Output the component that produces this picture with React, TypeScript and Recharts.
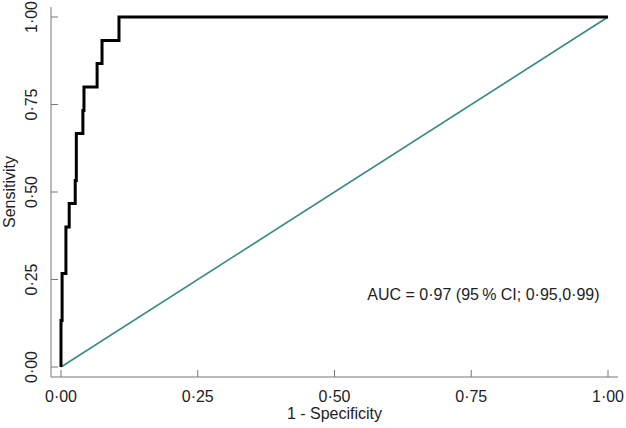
import { Line, LineChart, ReferenceDot, XAxis, YAxis } from "recharts";

const FPR = [0, 0.002, 0.009, 0.015, 0.026, 0.028, 0.04, 0.042, 0.066, 0.075, 0.106, 1];
const TPR = [0, 0.133, 0.267, 0.4, 0.467, 0.533, 0.667, 0.733, 0.8, 0.867, 0.933, 1];
const DIAG_X = [0, 1];
const DIAG_Y = [0, 1];
const TICKS = [0, 0.25, 0.5, 0.75, 1];
const AUC_TEXT = "AUC = 0·97 (95\u2009% CI; 0·95,0·99)";

const FONT = "'Liberation Sans', Arial, sans-serif";
const EJE = "#777777";
const TINTA = "#222222";
const VERDE = "#3b8b82";
const TAM = 16;

const roc = FPR.map((x, i) => ({ x, y: TPR[i] }));
const diagonal = DIAG_X.map((x, i) => ({ x, y: DIAG_Y[i] }));

const fmt = (v: number) => v.toFixed(2).replace(".", "·");

// tickSize=0 y tickMargin=0: (x, y) cae justo sobre la línea del eje
function XTick(props: { x?: number; y?: number; payload?: { value: number } }) {
  const x = Number(props.x);
  const y = Number(props.y);
  return (
    <g>
      <line x1={x} y1={y} x2={x} y2={y - 7} stroke={EJE} strokeWidth={1} />
      <text
        x={x}
        y={y + 19}
        textAnchor="middle"
        dominantBaseline="central"
        fontSize={TAM}
        fontFamily={FONT}
        fill={TINTA}
      >
        {fmt(props.payload?.value ?? 0)}
      </text>
    </g>
  );
}

function YTick(props: { x?: number; y?: number; payload?: { value: number } }) {
  const x = Number(props.x);
  const y = Number(props.y);
  const tx = x - 20;
  return (
    <g>
      <line x1={x} y1={y} x2={x + 7} y2={y} stroke={EJE} strokeWidth={1} />
      <text
        x={tx}
        y={y}
        transform={`rotate(-90, ${tx}, ${y})`}
        textAnchor="middle"
        dominantBaseline="central"
        fontSize={TAM}
        fontFamily={FONT}
        fill={TINTA}
      >
        {fmt(props.payload?.value ?? 0)}
      </text>
    </g>
  );
}

function YLabel(props: { viewBox?: { x: number; y: number; width: number; height: number } }) {
  const vb = props.viewBox ?? { x: 0, y: 0, width: 0, height: 0 };
  const cx = vb.x + 9;
  const cy = vb.y + vb.height / 2;
  return (
    <text
      x={cx}
      y={cy}
      transform={`rotate(-90, ${cx}, ${cy})`}
      textAnchor="middle"
      dominantBaseline="central"
      fontSize={TAM}
      fontFamily={FONT}
      fill={TINTA}
    >
      Sensitivity
    </text>
  );
}

function XLabel(props: { viewBox?: { x: number; y: number; width: number; height: number } }) {
  const vb = props.viewBox ?? { x: 0, y: 0, width: 0, height: 0 };
  return (
    <text
      x={vb.x + vb.width / 2}
      y={vb.y + 36}
      textAnchor="middle"
      dominantBaseline="central"
      fontSize={TAM}
      fontFamily={FONT}
      fill={TINTA}
    >
      1 - Specificity
    </text>
  );
}

function AucLabel(props: { viewBox?: { x?: number; y?: number; cx?: number; cy?: number } }) {
  const vb = props.viewBox ?? {};
  const x = Number(vb.cx ?? vb.x ?? 0);
  const y = Number(vb.cy ?? vb.y ?? 0);
  return (
    <text
      x={x}
      y={y}
      textAnchor="start"
      dominantBaseline="central"
      fontSize={TAM}
      fontFamily={FONT}
      fill={TINTA}
    >
      {AUC_TEXT}
    </text>
  );
}

export default function App() {
  return (
    <div style={{ position: "absolute", left: 0, top: 0, width: 626, height: 428, background: "#fff" }}>
      <LineChart
        width={626}
        height={428}
        data={roc}
        margin={{ top: 7, right: 8, bottom: 0, left: 0 }}
      >
        <XAxis
          type="number"
          dataKey="x"
          domain={[0, 1]}
          ticks={TICKS}
          padding={{ left: 10, right: 10 }}
          height={51}
          tickSize={0}
          tickMargin={0}
          tickLine={false}
          axisLine={{ stroke: EJE, strokeWidth: 1 }}
          tick={<XTick />}
          interval={0}
          label={{ content: <XLabel /> }}
        />
        <YAxis
          type="number"
          dataKey="y"
          domain={[0, 1]}
          ticks={TICKS}
          padding={{ top: 10, bottom: 10 }}
          width={51}
          tickSize={0}
          tickMargin={0}
          tickLine={false}
          axisLine={{ stroke: EJE, strokeWidth: 1 }}
          tick={<YTick />}
          interval={0}
          label={{ content: <YLabel /> }}
        />
        <Line
          data={diagonal}
          dataKey="y"
          type="linear"
          stroke={VERDE}
          strokeWidth={1.6}
          dot={false}
          activeDot={false}
          isAnimationActive={false}
        />
        <Line
          dataKey="y"
          type="stepBefore"
          stroke="#000000"
          strokeWidth={3}
          dot={false}
          activeDot={false}
          isAnimationActive={false}
        />
        <ReferenceDot x={0.56} y={0.206} r={0} fill="none" stroke="none" label={{ content: <AucLabel /> }} />
      </LineChart>
    </div>
  );
}
